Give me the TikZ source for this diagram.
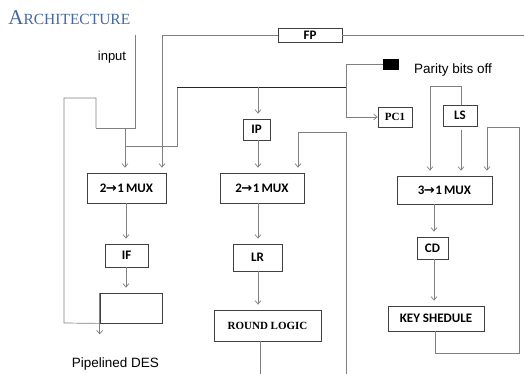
\documentclass[tikz,border=0pt]{standalone}
\usepackage{fontspec}
\usepackage{xcolor}
\usepackage{tikz}
\usetikzlibrary{arrows.meta,positioning,calc}
\newfontfamily\arialfont{Liberation Sans}
\newfontfamily\calfont{Carlito}
\newfontfamily\timesfont{Liberation Serif}
\newfontfamily\symbfont{DejaVu Sans}
\definecolor{ttl}{RGB}{70,104,152}
\definecolor{ln}{RGB}{128,128,128}
\newcommand{\rarr}{{\symbfont\bfseries\kern-0.5pt→\kern0.5pt}}

\begin{document}
\begin{tikzpicture}[x=1pt,y=-1pt,>={Straight Barb[length=3.5pt,width=6pt]},
   line width=0.7pt,
   bx/.style={draw=black!75,line width=0.8pt,inner sep=0pt,font=\calfont\bfseries\fontsize{13}{15}\selectfont},
   sbx/.style={bx,font=\timesfont\bfseries\fontsize{11}{13}\selectfont},
   cn/.style={draw=ln,line width=0.7pt},
   ar/.style={cn,->,shorten >=5pt}]
  \useasboundingbox (0,0) rectangle (524,374);
  % title and texts
  \node[anchor=base west,text=ttl,inner sep=0pt,font=\timesfont] (ttl) at (8,25) {{\fontsize{21}{24}\selectfont A}{\fontsize{15.5}{18}\selectfont RCHITECTURE}};
  \node[font=\arialfont\fontsize{13}{15}\selectfont] (inp) at (112,57) {input};
  \node[font=\arialfont\fontsize{13.5}{15}\selectfont] (par) at (453,70) {Parity bits off};
  \node[font=\arialfont\fontsize{13.5}{15}\selectfont] (pdes) at (115.5,364) {Pipelined DES};
  % boxes
  \node[bx,minimum width=64,minimum height=14] (fp) at (310,35) {FP};
  \node[bx,minimum width=79,minimum height=30] (mux1) at (126.5,188) {2\rarr1\,MUX};
  \node[bx,minimum width=84,minimum height=30] (mux2) at (262,188) {2\rarr1\,MUX};
  \node[bx,minimum width=27,minimum height=21] (ip) at (256.5,129.5) {IP};
  \node[bx,minimum width=43,minimum height=23] (if) at (126.5,255.5) {IF};
  \node[bx,minimum width=49,minimum height=27] (lr) at (257.5,257.5) {LR};
  \node[sbx,minimum width=107,minimum height=31] (rl) at (267.5,325.5) {ROUND LOGIC};
  \node[bx,minimum width=62,minimum height=30] (out) at (131,308) {};
  \node[sbx,minimum width=34,minimum height=20] (pc) at (395,117) {PC1};
  \node[draw,fill=black,minimum width=15,minimum height=10,inner sep=0pt] (blk) at (390.5,64) {};
  \node[bx,minimum width=34,minimum height=21] (ls) at (460,115.5) {LS};
  \node[bx,minimum width=95,minimum height=28] (mux3) at (444.5,190) {3\rarr1\,MUX};
  \node[bx,minimum width=31,minimum height=22] (cd) at (432.5,248) {CD};
  \node[bx,minimum width=96,minimum height=25] (ks) at (436,318.5) {KEY SHEDULE};
  % junctions
  \coordinate (in0) at (135,35);
  \coordinate (j1) at (125,128);
  \coordinate (j2) at (125,146);
  \coordinate (j3) at (346,87);
  \coordinate (j4) at (346,64);
  \coordinate (fp0) at (162,35);
  \coordinate (fpe) at (524,35);
  \coordinate (rlb) at (260,374);
  \coordinate (fbb) at (346,374);
  % left column
  \draw[cn] (in0) -- (135,128) -- (96,128);
  \draw[cn] (out.south west) -- (64,323) |- (96,98) -- (96,128);
  \draw[ar] (j1) -- (mux1.north -| j1);
  \draw[cn] (j2) -- (177,146) -- (177,87);
  \draw[draw=black!85,line width=0.6pt] (177,87) -- (j3);
  \draw[cn] (fp0) -- (fp.west);
  \draw[cn] (fp.east) -- (fpe);
  \draw[ar] (fp0) -- (mux1.north -| fp0);
  \draw[ar] (mux1.south -| 126,0) -- (if.north -| 126,0);
  \draw[ar] (if.south -| 126,0) -- (out.north -| 126,0);
  \draw[cn,->,shorten >=0pt] (out.north west) -- ($(out.south west)+(0,11)$);
  % middle column
  \draw[ar] (258,87) -- (ip.north -| 258,0);
  \draw[ar] (ip.south -| 258,0) -- (mux2.north -| 258,0);
  \draw[ar] (mux2.south -| 258,0) -- (lr.north -| 258,0);
  \draw[ar] (lr.south -| 258,0) -- (rl.north -| 258,0);
  \draw[cn] (rl.south -| rlb) -- (rlb);
  \draw[ar] (fbb) -- (346,132) -| (mux2.north -| 298,0);
  \draw[cn] (j4) -- (blk.west);
  \draw[cn,->] (j4) |- (pc.west);
  % right column
  \draw[ar] (ls.north -| 461,0) |- (430,86) -- (mux3.north -| 430,0);
  \draw[ar] (461,130) -- (mux3.north -| 461,0);
  \draw[ar] (ks.south -| 435,0) |- (519,353) |- (487,127) -- (mux3.north -| 487,0);
  \draw[ar] (mux3.south -| 434,0) -- (cd.north -| 434,0);
  \draw[ar] (cd.south -| 434,0) -- (ks.north -| 434,0);
\end{tikzpicture}
\end{document}
